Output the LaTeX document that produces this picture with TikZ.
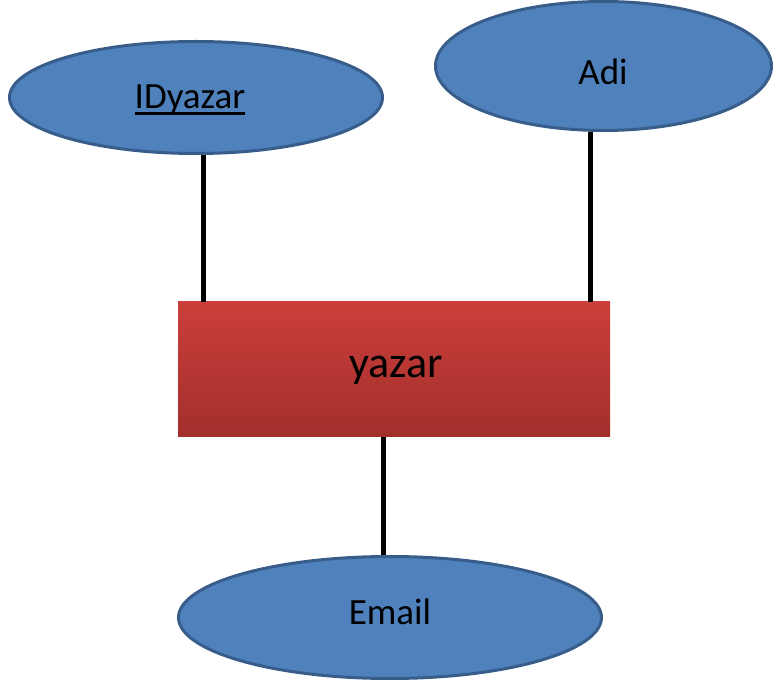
\documentclass[tikz,border=0pt]{standalone}
\usepackage{fontspec}
\setmainfont{Carlito}
\usetikzlibrary{shapes.geometric}

\newcommand{\keyattr}[1]{\setbox0\hbox{#1}\rlap{\rule[-6pt]{\wd0}{2.5pt}}\box0}

\tikzset{
  attr/.style={ellipse, draw=attrline, fill=attrfill, line width=3pt, inner sep=0pt},
  attrtext/.style={font=\fontsize{37}{42}\selectfont},
  entity/.style={rectangle, top color=entitytop, bottom color=entitybot, draw=none, inner sep=0pt},
  link/.style={line width=5pt, black}
}
\definecolor{attrfill}{HTML}{4F81BD}
\definecolor{attrline}{HTML}{385D8A}
\definecolor{entitytop}{HTML}{CB3E3A}
\definecolor{entitybot}{HTML}{A22F2C}

\begin{document}
\begin{tikzpicture}[x=1pt,y=-1pt]
  \useasboundingbox (0,0) rectangle (774,684);
  \node[entity, minimum width=432pt, minimum height=135pt] (yazar) at (394,369.5) {};
  \node (yazartext) at (396,370) [font=\fontsize{44}{50}\selectfont] {yazar};
  \node[attr, minimum width=373pt, minimum height=112pt] (id) at (196,97.5) {};
  \node (idtext) at (190,100) [attrtext] {\keyattr{IDyazar}};
  \node[attr, minimum width=336pt, minimum height=129pt] (adi) at (603.5,66) {};
  \node (aditext) at (603,72) [attrtext] {Adi};
  \node[attr, minimum width=423pt, minimum height=122pt] (email) at (390,617.5) {};
  \node (emailtext) at (390,612) [attrtext] {Email};
  % lines from the attributes to the entity
  \draw[link] ([xshift=7pt]id.south) -- ([xshift=7pt]id.south |- yazar.north);
  \draw[link] ([xshift=-13pt]adi.south) -- ([xshift=-13pt]adi.south |- yazar.north);
  \draw[link] ([xshift=-11pt]yazar.south) -- ([xshift=-11pt]yazar.south |- email.north);
\end{tikzpicture}
\end{document}
